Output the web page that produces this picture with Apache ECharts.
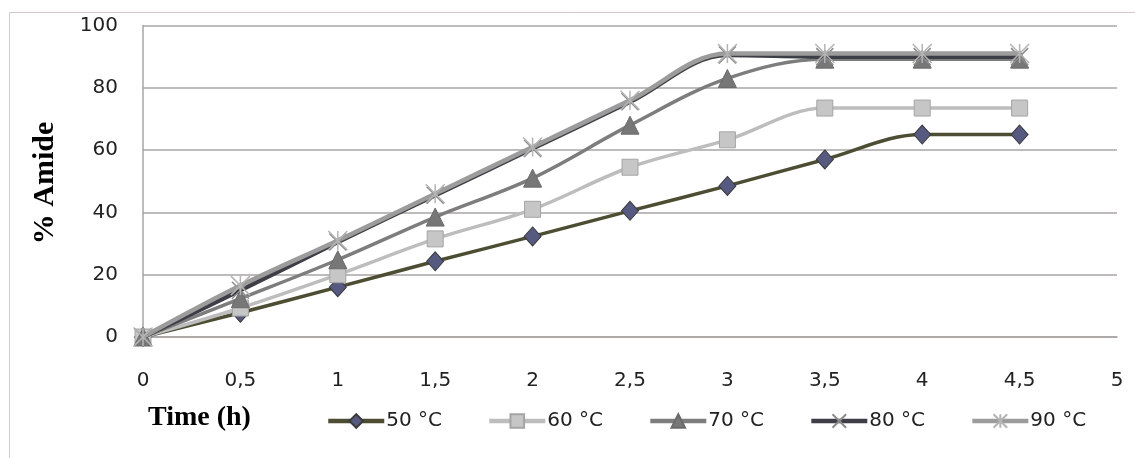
<!DOCTYPE html>
<html>
<head>
<meta charset="utf-8">
<script src="https://cdn.jsdelivr.net/npm/echarts@6/dist/echarts.min.js"></script>
<style>
html,body{margin:0;padding:0;background:#fff;}
#chart{width:1135px;height:458px;}
</style>
</head>
<body>
<div id="chart"></div>
<script>
const timeH = [0, 0.5, 1, 1.5, 2, 2.5, 3, 3.5, 4, 4.5];
const seriesNames = ['50 °C', '60 °C', '70 °C', '80 °C', '90 °C'];
const amide50 = [0, 7.8, 16, 24.3, 32.3, 40.5, 48.5, 57, 65, 65];
const amide60 = [0, 9.3, 20, 31.5, 41, 54.5, 63.3, 73.5, 73.5, 73.5];
const amide70 = [0, 12.3, 24.8, 38.5, 51, 68, 83, 89.2, 89.2, 89.2];
const amide80 = [0, 15, 30.5, 45.5, 60.5, 75.5, 90.5, 90, 90, 90];
const amide90 = [0, 16.5, 31, 46, 61, 76, 91, 91, 91, 91];
const yTicks = [0, 20, 40, 60, 80, 100];

const valuesList = [amide50, amide60, amide70, amide80, amide90];
const pairs = v => timeH.map((t, i) => [t, v[i]]);

const X_PATH = 'path://M0,0L10,10M10,0L0,10';
const STAR_PATH = 'path://M5,0L5,10M0,0L10,10M10,0L0,10';

const styles = [
  {line:'#4d4d33', w:3.5, symbol:'diamond', size:[17,19], fill:'#575a80', border:'#3a3a3a', bw:1},
  {line:'#bdbdbd', w:3.5, symbol:'rect', size:16, fill:'#c6c6c6', border:'#a4a4a4', bw:1},
  {line:'#7d7d7d', w:3.5, symbol:'triangle', size:18, fill:'#777777', border:'#6a6a6a', bw:1},
  {line:'#3e3e46', w:4.5, symbol:X_PATH, size:17, fill:'none', border:'#8c8c8c', bw:1.5},
  {line:'#9c9c9c', w:4.5, symbol:STAR_PATH, size:19, fill:'none', border:'#b4b4b4', bw:1.5}
];

const chart = echarts.init(document.getElementById('chart'));
const option = {
  backgroundColor: '#ffffff',
  animation: false,
  grid: {left: 143, top: 25.5, right: 18, bottom: 121, containLabel: false},
  xAxis: {
    type: 'value', min: 0, max: 5, interval: 0.5,
    axisLine: {show: true, lineStyle: {color: '#aaa5a5', width: 1.5}},
    axisTick: {show: false},
    splitLine: {show: false},
    axisLabel: {
      margin: 34, color: '#222', fontFamily: 'DejaVu Sans', fontSize: 20,
      formatter: v => String(v).replace('.', ',')
    }
  },
  yAxis: {
    type: 'value', min: yTicks[0], max: yTicks[yTicks.length-1], interval: 20,
    axisLine: {show: true, lineStyle: {color: '#aaa5a5', width: 1.5}},
    axisTick: {show: false},
    splitLine: {show: true, lineStyle: {color: '#aaa5a5', width: 1.5}},
    axisLabel: {margin: 25, color: '#222', fontFamily: 'DejaVu Sans', fontSize: 20}
  },
  legend: {
    left: 326, top: 411, padding: 0,
    itemWidth: 56, itemHeight: 17, itemGap: 45,
    lineStyle: {width: 4.5},
    textStyle: {fontFamily: 'DejaVu Sans', fontSize: 20, color: '#222', padding: [0,0,0,-3]},
    data: seriesNames
  },
  graphic: [
    {type: 'rect', shape: {x: 9.5, y: 12.5, width: 1200, height: 500}, style: {fill: 'none', stroke: '#dcc6c6', lineWidth: 1}, silent: true, z: -10},
    {type: 'text', x: 45, y: 183, rotation: Math.PI/2, style: {text: '% Amide', font: 'bold 30px "Liberation Serif"', fill: '#000', align: 'center', verticalAlign: 'middle'}},
    {type: 'text', x: 148, y: 418, style: {text: 'Time (h)', font: 'bold 28px "Liberation Serif"', fill: '#000', align: 'left', verticalAlign: 'middle'}}
  ],
  series: valuesList.map((vals, i) => ({
    name: seriesNames[i],
    type: 'line',
    data: pairs(vals),
    smooth: 0.35,
    symbol: styles[i].symbol,
    symbolSize: styles[i].size,
    showAllSymbol: true,
    lineStyle: {color: styles[i].line, width: styles[i].w},
    itemStyle: {color: styles[i].fill, borderColor: styles[i].border, borderWidth: styles[i].bw},
    z: 2 + i
  }))
};
chart.setOption(option);
</script>
</body>
</html>
